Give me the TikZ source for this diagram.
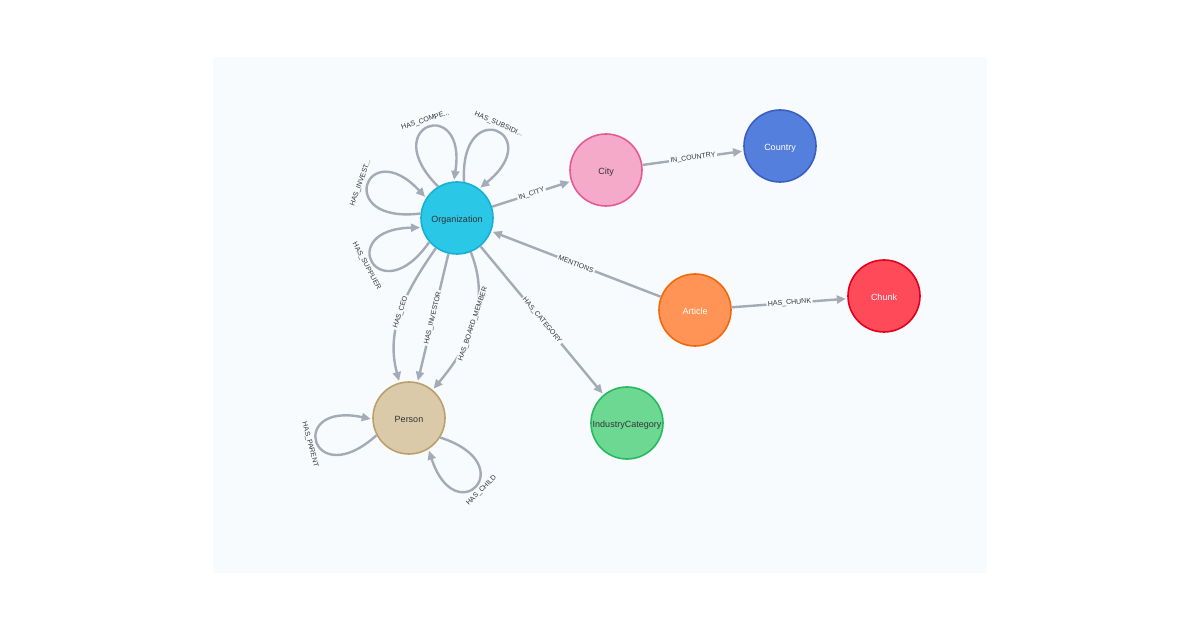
\documentclass[tikz,border=0pt]{standalone}
\usepackage{fontspec}
\setmainfont{Liberation Sans}
\usepackage{xcolor}
\definecolor{panelbg}{HTML}{F8FBFE}
\definecolor{relgray}{HTML}{A5ABB6}
\definecolor{labeltext}{HTML}{333333}
\definecolor{orgfill}{HTML}{2BC7E6}
\definecolor{orgedge}{HTML}{17B0D4}
\definecolor{cityfill}{HTML}{F5AAC9}
\definecolor{cityedge}{HTML}{E45A95}
\definecolor{countryfill}{HTML}{557FDD}
\definecolor{countryedge}{HTML}{3A5EC2}
\definecolor{articlefill}{HTML}{FF9456}
\definecolor{articleedge}{HTML}{F2680F}
\definecolor{chunkfill}{HTML}{FF4A5A}
\definecolor{chunkedge}{HTML}{E1001C}
\definecolor{catfill}{HTML}{6DD892}
\definecolor{catedge}{HTML}{28B862}
\definecolor{personfill}{HTML}{DACAA9}
\definecolor{personedge}{HTML}{BCA06C}
\usepackage{tikz}
\usetikzlibrary{arrows.meta}

\begin{document}
\begin{tikzpicture}[
  x=1pt, y=1pt,
  font=\fontsize{9}{10}\selectfont,
  entity/.style={
    circle, draw, line width=1.6pt, minimum size=72pt, inner sep=0pt,
    text=labeltext, text height=8.5pt, text depth=0pt
  },
  rel/.style={draw=relgray, line width=2.4pt,
    -{Triangle[length=9pt, width=8pt]}, shorten >=1.5pt},
  rellabel/.style={font=\fontsize{7}{8}\selectfont, text=labeltext,
    fill=panelbg, inner sep=1.5pt, sloped},
  looplabel/.style={font=\fontsize{7}{8}\selectfont, text=labeltext,
    inner sep=1pt, sloped, pos=0.5}
]
  \useasboundingbox[fill=white] (0,0) rectangle (1200,630);
  \fill[panelbg] (213,57) rectangle (987,573);

  \node[entity, fill=orgfill, draw=orgedge]         (org)     at (457,412) {Organization};
  \node[entity, fill=cityfill, draw=cityedge]       (city)    at (606,460) {City};
  \node[entity, fill=countryfill, draw=countryedge, text=white] (country) at (780,484) {Country};
  \node[entity, fill=articlefill, draw=articleedge, text=white] (article) at (695,320) {Article};
  \node[entity, fill=chunkfill, draw=chunkedge, text=white]     (chunk)   at (884,334) {Chunk};
  \node[entity, fill=catfill, draw=catedge]         (cat)     at (627,207) {IndustryCategory};
  \node[entity, fill=personfill, draw=personedge]   (person)  at (409,212) {Person};

  % plain relations
  \draw[rel] (org) -- node[rellabel] {IN\_CITY} (city);
  \draw[rel] (city) -- node[rellabel] {IN\_COUNTRY} (country);
  \draw[rel] (article) -- node[rellabel] {MENTIONS} (org);
  \draw[rel] (article) -- node[rellabel] {HAS\_CHUNK} (chunk);
  \draw[rel] (org) -- node[rellabel] {HAS\_CATEGORY} (cat);

  % three relations Organization -> Person, fanned out
  \draw[rel] (org) to[out=235, in=105] node[rellabel] {HAS\_CEO} (person);
  \draw[rel] (org) -- node[rellabel] {HAS\_INVESTOR} (person);
  \draw[rel] (org) to[out=292, in=50] node[rellabel] {HAS\_BOARD\_MEMBER} (person);

  % self loops on Organization
  \draw[rel] (org.121) .. controls +(135:88) and +(81:88) .. (org.95)
    node[looplabel, above=2.5pt] {HAS\_COMPE...};
  \draw[rel] (org.79) .. controls +(93:88) and +(39:88) .. (org.53)
    node[looplabel, above=2.5pt] {HAS\_SUBSIDI...};
  \draw[rel] (org.173) .. controls +(187:88) and +(133:88) .. (org.147)
    node[looplabel, above=2.5pt] {HAS\_INVEST...};
  \draw[rel] (org.221) .. controls +(235:88) and +(181:88) .. (org.195)
    node[looplabel, below=2.5pt] {HAS\_SUPPLIER};

  % self loops on Person
  \draw[rel] (person.208) .. controls +(222:88) and +(168:88) .. (person.182)
    node[looplabel, below=2.5pt] {HAS\_PARENT};
  \draw[rel] (person.328) .. controls +(342:88) and +(288:88) .. (person.302)
    node[looplabel, below=2.5pt] {HAS\_CHILD};
\end{tikzpicture}
\end{document}
